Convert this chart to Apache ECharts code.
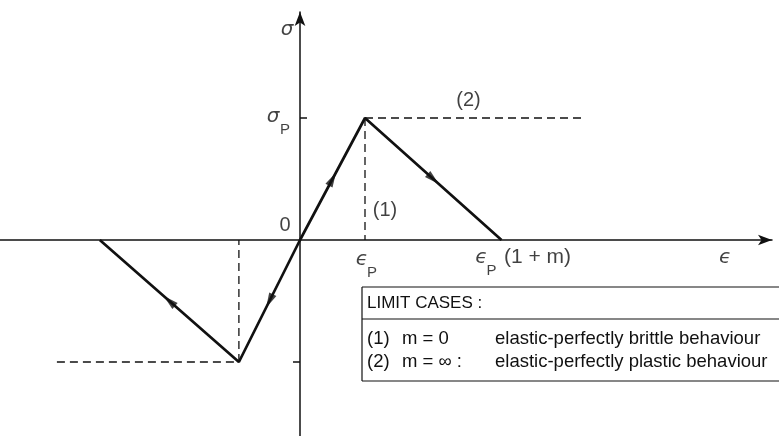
<!DOCTYPE html>
<html>
<head>
<meta charset="utf-8">
<script src="https://cdn.jsdelivr.net/npm/echarts@6/dist/echarts.min.js"></script>
<style>
  html, body { margin: 0; padding: 0; background: #fff; }
  #chart { width: 779px; height: 436px; }
</style>
</head>
<body>
<div id="chart"></div>
<script>
// Strain in units of εP, stress in units of σP
const tensionStrain = [0, 1, 3.1];
const tensionStress = [0, 1, 0];
const compressionStrain = [0, -0.94, -3.08];
const compressionStress = [0, -1, 0];
// Limit case (1): sudden drop at εP
const brittleStrain = [1, 1];
const brittleStress = [1, 0];
// Limit case (2): plateau at σP
const plasticStrain = [1, 4.34];
const plasticStress = [1, 1];
// Matching guides on the compression side
const compDropStrain = [-0.94, -0.94];
const compDropStress = [-1, 0];
const compPlateauStrain = [-3.74, -0.94];
const compPlateauStress = [-1, -1];
// Stress ticks on the vertical axis: +σP (drawn inward) and -σP (drawn outward)
const stressTicks = [1, -1];

const legendTitle = 'LIMIT CASES :';
const legendRows = [
  ['(1)', 'm = 0', 'elastic-perfectly brittle behaviour'],
  ['(2)', 'm = \u221e :', 'elastic-perfectly plastic behaviour']
];

const INK = '#111';
const FONT = '"Liberation Sans", Arial, sans-serif';
const GREEK = '"DejaVu Sans", sans-serif';

const pts = (xs, ys) => xs.map((x, i) => [x, ys[i]]);

// Axis ranges: 65 px per εP, 122 px per σP, origin at (300, 240)
const X_MIN = -300 / 65, X_MAX = 472 / 65;
const Y_MIN = -196 / 122, Y_MAX = 228 / 122;

function solid(name, xs, ys) {
  return {
    name, type: 'line', data: pts(xs, ys), symbol: 'none', silent: true,
    lineStyle: { color: INK, width: 2.7 }, z: 3
  };
}
function dashed(name, xs, ys) {
  return {
    name, type: 'line', data: pts(xs, ys), symbol: 'none', silent: true,
    lineStyle: { color: INK, width: 1.3, type: [8, 5] }, z: 2
  };
}

// Direction arrows sit at the middle of each loading segment, pointing away from the origin
const arrowSegments = [
  [[tensionStrain[0], tensionStress[0]], [tensionStrain[1], tensionStress[1]]],
  [[tensionStrain[1], tensionStress[1]], [tensionStrain[2], tensionStress[2]]],
  [[compressionStrain[0], compressionStress[0]], [compressionStrain[1], compressionStress[1]]],
  [[compressionStrain[1], compressionStress[1]], [compressionStrain[2], compressionStress[2]]]
];

function note(value, text, offset, extra) {
  return {
    value,
    label: Object.assign({
      show: true, formatter: text, position: 'inside', offset,
      color: INK, fontFamily: FONT, fontSize: 20, align: 'center', verticalAlign: 'middle'
    }, extra || {})
  };
}
const greek = { fontFamily: GREEK, fontStyle: 'italic', fontSize: 20 };
const sub = { fontSize: 15 };
const plateauMid = (plasticStrain[0] + plasticStrain[1]) / 2;

const notes = [
  note([0, 1.72], '\u03c3', [-13, 0], greek),
  note([0, tensionStress[1]], '\u03c3', [-27, -1], greek),
  note([0, tensionStress[1]], 'P', [-15, 12], sub),
  note([0, 0], '0', [-15, -15]),
  note([brittleStrain[0], 0], '(1)', [20, -30]),
  note([plateauMid, plasticStress[0]], '(2)', [-5, -18]),
  note([tensionStrain[1], 0], '\u03f5', [-3, 20], greek),
  note([tensionStrain[1], 0], 'P', [7, 33], sub),
  note([tensionStrain[2], 0], '\u03f5', [-20, 18], greek),
  note([tensionStrain[2], 0], 'P', [-10, 31], sub),
  note([tensionStrain[2], 0], '(1 + m)', [36, 17], { fontSize: 21 }),
  note([6.54, 0], '\u03f5', [0, 18], greek)
];

// Legend box with the two limit cases
const BOX_L = 362, BOX_R = 779, BOX_T = 287, BOX_S = 319, BOX_B = 381;
const rowY = [339, 362];
const colX = [367, 402, 495];
const boxGraphics = [
  { type: 'line', shape: { x1: BOX_L, y1: BOX_T, x2: BOX_R, y2: BOX_T }, style: { stroke: INK, lineWidth: 1.2 } },
  { type: 'line', shape: { x1: BOX_L, y1: BOX_S, x2: BOX_R, y2: BOX_S }, style: { stroke: INK, lineWidth: 1.2 } },
  { type: 'line', shape: { x1: BOX_L, y1: BOX_B, x2: BOX_R, y2: BOX_B }, style: { stroke: INK, lineWidth: 1.2 } },
  { type: 'line', shape: { x1: BOX_L, y1: BOX_T, x2: BOX_L, y2: BOX_B }, style: { stroke: INK, lineWidth: 1.2 } },
  { type: 'text', x: colX[0], y: (BOX_T + BOX_S) / 2, style: { text: legendTitle, fill: INK, font: '17px ' + FONT, textVerticalAlign: 'middle' } }
];
legendRows.forEach((row, r) => {
  row.forEach((t, c) => {
    boxGraphics.push({ type: 'text', x: colX[c], y: rowY[r], style: { text: t, fill: INK, font: '18.5px ' + FONT, textVerticalAlign: 'middle' } });
  });
});

const axisLineStyle = { color: INK, width: 1.5 };

const chart = echarts.init(document.getElementById('chart'), null, { renderer: 'canvas' });

const option = {
  animation: false,
  backgroundColor: '#fff',
  grid: { left: 0, right: 7, top: 12, bottom: 0 },
  xAxis: {
    type: 'value', min: X_MIN, max: X_MAX,
    axisLine: { onZero: true, onZeroAxisIndex: 0, symbol: ['none', 'arrow'], symbolSize: [8, 14], lineStyle: axisLineStyle },
    axisTick: { show: false }, axisLabel: { show: false }, splitLine: { show: false }
  },
  yAxis: [
    {
      type: 'value', min: Y_MIN, max: Y_MAX, position: 'left',
      axisLine: { onZero: true, onZeroAxisIndex: 0, symbol: ['none', 'arrow'], symbolSize: [8, 14], lineStyle: axisLineStyle },
      axisTick: { show: true, inside: false, length: 7, customValues: [stressTicks[1]], lineStyle: { color: INK, width: 1.5 } },
      axisLabel: { show: false }, splitLine: { show: false }
    },
    {
      type: 'value', min: Y_MIN, max: Y_MAX, position: 'right',
      axisLine: { show: false, onZero: true, onZeroAxisIndex: 0 },
      axisTick: { show: true, inside: false, length: 7, customValues: [stressTicks[0]], lineStyle: { color: INK, width: 1.5 } },
      axisLabel: { show: false }, splitLine: { show: false }
    }
  ],
  graphic: boxGraphics,
  series: [
    solid('tension', tensionStrain, tensionStress),
    solid('compression', compressionStrain, compressionStress),
    dashed('brittle', brittleStrain, brittleStress),
    dashed('plastic', plasticStrain, plasticStress),
    dashed('compDrop', compDropStrain, compDropStress),
    dashed('compPlateau', compPlateauStrain, compPlateauStress),
    {
      name: 'arrows', type: 'scatter', silent: true, z: 4,
      symbol: 'triangle', symbolSize: [8, 15],
      itemStyle: { color: INK },
      data: arrowSegments.map(([a, b]) => ({ value: [(a[0] + b[0]) / 2, (a[1] + b[1]) / 2] }))
    },
    {
      name: 'notes', type: 'scatter', silent: true, z: 5,
      symbolSize: 0, itemStyle: { color: 'transparent' },
      data: notes
    }
  ]
};

chart.setOption(option);

// Orient each arrow along its segment in screen space
const arrowData = arrowSegments.map(([a, b]) => {
  const pa = chart.convertToPixel({ xAxisIndex: 0, yAxisIndex: 0 }, a);
  const pb = chart.convertToPixel({ xAxisIndex: 0, yAxisIndex: 0 }, b);
  const dx = pb[0] - pa[0], dy = pb[1] - pa[1];
  const rot = Math.atan2(-dx, -dy) * 180 / Math.PI;
  return { value: [(a[0] + b[0]) / 2, (a[1] + b[1]) / 2], symbolRotate: rot };
});
chart.setOption({ series: [{ name: 'arrows', data: arrowData }] });
</script>
</body>
</html>
